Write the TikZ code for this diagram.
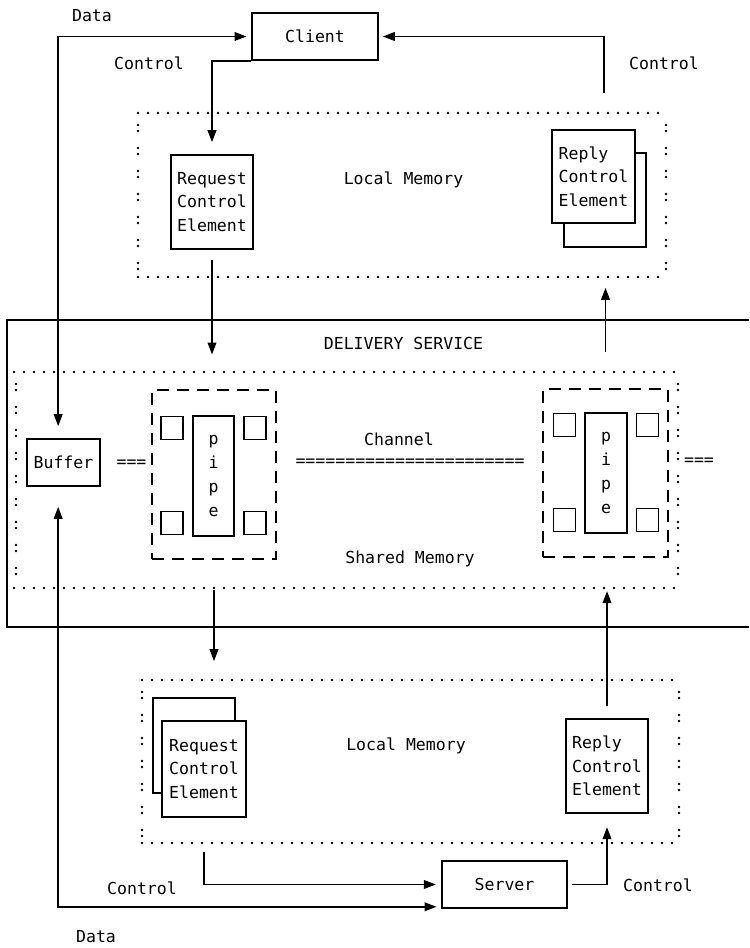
\documentclass[tikz,border=0pt]{standalone}
\usepackage{fontspec}
\setmonofont{DejaVu Sans Mono}
\usetikzlibrary{arrows.meta}

\tikzset{
  lbl/.style={font=\ttfamily\fontsize{12.4}{17.5}\selectfont, inner sep=0pt},
  blk/.style={draw, line width=1.2pt, fill=white, lbl, align=left},
  sq/.style={draw, line width=1.2pt, fill=white, minimum width=16.5pt, minimum height=17.25pt, inner sep=0pt},
  dotrow/.style={line width=2pt, line cap=round, dash pattern=on 0pt off 7.5pt},
  dotcol/.style={line width=2pt, line cap=round, dash pattern=on 0pt off 4.5pt on 0pt off 12.75pt},
  dashbox/.style={draw, line width=1.2pt, dash pattern=on 9pt off 6pt},
  conn/.style={line width=1.2pt, ->},
}

\begin{document}
\begin{tikzpicture}[x=0.75pt,y=-0.75pt,>={Triangle[length=9pt,width=6.5pt]}]
    \useasboundingbox (0,0) rectangle (749,948);

    % delivery service frame, open to the right
    \draw[line width=1.2pt] (749,320) -| (7,627) -- (749,627);

    % memory areas
    \draw[dotrow] (138,113) -- (666,113) (138,277) -- (666,277);
    \draw[dotcol] (138,125) -- (138,277) (666,125) -- (666,277);
    \draw[dotrow] (14,372) -- (678,372) (14,588) -- (678,588);
    \draw[dotcol] (16,384) -- (16,588) (678,384) -- (678,588);
    \draw[dotrow] (142,680) -- (679,680) (142,843) -- (679,843);
    \draw[dotcol] (142,692) -- (142,843) (679,692) -- (679,843);

    % client side
    \node[blk, minimum width=94.5pt, minimum height=35.25pt] (client) at (315,36.5) {Client};
    \node[blk, minimum width=61.5pt, minimum height=70.5pt] (reqA) at (212,202) {Request\\Control\\Element};
    \node[blk, minimum width=61.5pt, minimum height=70.5pt] (replyAb) at (605,200) {};
    \node[blk, minimum width=62.25pt, minimum height=69.75pt] (replyA) at (593.5,176.5) {Reply\\Control\\Element};
    \node[lbl] (locA) at (403.5,180) {Local Memory};

    % delivery service
    \node[lbl] (deliv) at (403.5,343) {DELIVERY SERVICE};
    \node[blk, minimum width=54.75pt, minimum height=35.25pt] (buffer) at (63.5,462.5) {Buffer};
    \node[dashbox, minimum width=93pt, minimum height=126.75pt] (pipeL) at (214,474.5) {};
    \node[dashbox, minimum width=93.75pt, minimum height=126pt] (pipeR) at (605.5,473) {};
    \node[blk, align=center, minimum width=30.75pt, minimum height=90pt,
          font=\ttfamily\fontsize{12.4}{18.2}\selectfont] (tubeL) at (213.5,476) {p\\i\\p\\e};
    \node[blk, align=center, minimum width=31.5pt, minimum height=90pt,
          font=\ttfamily\fontsize{12.4}{18.2}\selectfont] (tubeR) at (606,473) {p\\i\\p\\e};
    \foreach \s/\cx/\cy in {L/213.5/476, R/606/473}
      \foreach \n/\dx/\dy in {1/-41.5/-48, 2/41.5/-48, 3/-41.5/47, 4/41.5/47}
        \node[sq] (sq\s\n) at (\cx+\dx,\cy+\dy) {};
    \node[lbl] (eqL) at (131.5,464) {===};
    \node[lbl] (eqR) at (699,462) {===};
    \node[lbl] (chan) at (399,439) {Channel};
    \node[lbl] (eqC) at (410,463) {=======================};
    \node[lbl] (shmem) at (410,559) {Shared Memory};

    % server side
    \node[blk, minimum width=61.5pt, minimum height=71.25pt] (reqBb) at (194,745.5) {};
    \node[blk, minimum width=63pt, minimum height=72pt] (reqB) at (204,769) {Request\\Control\\Element};
    \node[blk, minimum width=61.5pt, minimum height=70.5pt] (replyB) at (607,766) {Reply\\Control\\Element};
    \node[lbl] (locB) at (406,746) {Local Memory};
    \node[blk, minimum width=93.75pt, minimum height=35.25pt] (server) at (504.5,884.5) {Server};

    % flow labels
    \node[lbl] (dataT) at (92,16) {Data};
    \node[lbl] (ctlTL) at (149,63) {Control};
    \node[lbl] (ctlTR) at (664,63) {Control};
    \node[lbl] (ctlBL) at (142,888) {Control};
    \node[lbl] (ctlBR) at (658,885) {Control};
    \node[lbl] (dataB) at (96,937) {Data};

    % connectors
    \coordinate (ctlA) at (604,93);
    \draw[conn] (client.south west) -| ([yshift=9pt]reqA.north);
    \draw[conn] (ctlA) |- ([xshift=3pt]client.east);
    \draw[conn, <->] ([xshift=-4pt,yshift=9pt]buffer.north) |- ([xshift=-3.5pt]client.west);
    \draw[conn, <->] ([xshift=-4pt,yshift=-15pt]buffer.south) |- ([xshift=-3.5pt,yshift=1.5pt]server.south west);
    \draw[conn, shorten <=8pt, shorten >=26pt] (reqA.south) -- (reqA.south |- pipeL.north);
    \draw[conn, shorten <=27pt, shorten >=30pt] (pipeR.north) -- (pipeR.north |- replyAb.south);
    \draw[conn, shorten <=23pt, shorten >=27pt] (pipeL.south) -- (pipeL.south |- reqBb.north);
    \draw[conn, shorten <=9pt, shorten >=25pt] (replyB.north) -- (replyB.north |- pipeR.south);
    \draw[conn, shorten <=26pt, shorten >=4pt] (reqB.south) |- (server.west);
    \draw[conn, shorten <=3pt, shorten >=10pt] (server.east) -| (replyB.south);
\end{tikzpicture}
\end{document}
